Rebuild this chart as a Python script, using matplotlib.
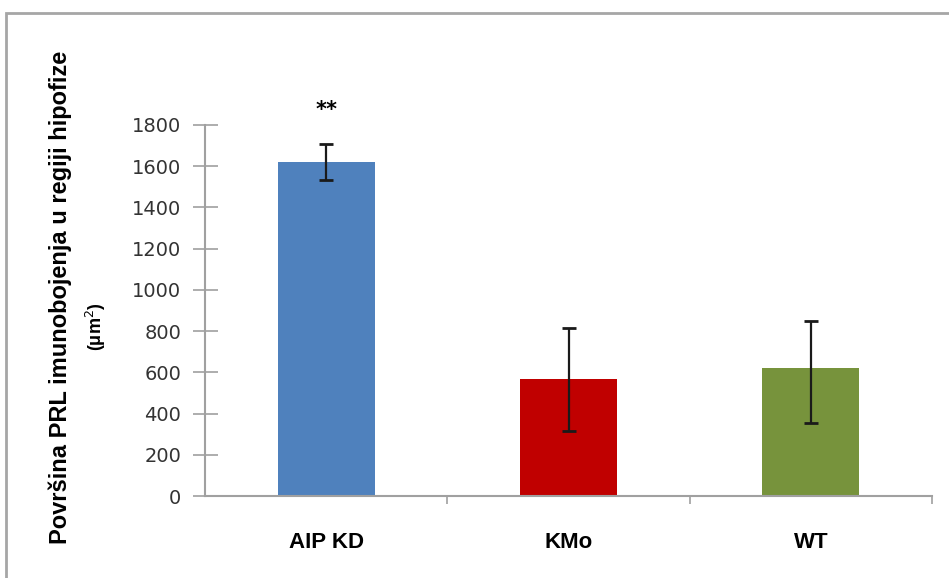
import matplotlib
matplotlib.use('Agg')
import matplotlib.pyplot as plt
from matplotlib.patches import Rectangle

groups = ['AIP KD', 'KMo', 'WT']
means = [1621, 568, 621]
err_low = [88, 252, 267]
err_high = [87, 248, 228]
colors = ['#4f81bd', '#c00000', '#77933c']
yticks = [0, 200, 400, 600, 800, 1000, 1200, 1400, 1600, 1800]

W, H = 949, 578
fig = plt.figure(figsize=(W / 100, H / 100), dpi=100)

# outer frame of the chart area, open at right and bottom
fig.patches.append(Rectangle((6 / W, -0.1), 1.1, 1 - 13 / H + 0.1,
                             transform=fig.transFigure, fill=False,
                             edgecolor='#a6a6a6', linewidth=2))

ax = fig.add_axes([205 / W, 1 - 496 / H, (932 - 205) / W, (496 - 125) / H])
x = range(len(groups))
ax.bar(x, means, width=0.4, color=colors, zorder=2)
ax.errorbar(x, means, yerr=[err_low, err_high], fmt='none', ecolor='#1a1a1a',
            elinewidth=1.6, capsize=5, capthick=2, zorder=3)

ax.set_xlim(-0.5, 2.5)
ax.set_ylim(0, 1800)
ax.set_yticks(yticks)
ax.set_yticklabels([str(v) for v in yticks], fontsize=14, color='#333333',
                   family='DejaVu Sans')
ax.set_xticks([0.5, 1.5, 2.5])
ax.set_xticklabels([])
ax.tick_params(axis='y', direction='inout', length=18, color='#a0a0a0', width=1.2, pad=8)
ax.tick_params(axis='x', direction='out', length=6, color='#a0a0a0', width=1.2)

for i, g in enumerate(groups):
    ax.text(i, -225, g, ha='center', va='center', fontsize=16,
            fontweight='bold', family='Liberation Sans')

ax.text(0, means[0] + err_high[0] + 165, '**', ha='center', va='center',
        fontsize=15, fontweight='bold', clip_on=False)

for side in ['top', 'right']:
    ax.spines[side].set_visible(False)
for side in ['left', 'bottom']:
    ax.spines[side].set_color('#a0a0a0')
    ax.spines[side].set_linewidth(1.5)

fig.text(60 / W, 1 - 297 / H, 'Površina PRL imunobojenja u regiji hipofize',
         rotation=90, ha='center', va='center', fontsize=17, fontweight='bold',
         family='Liberation Sans')
fig.text(96 / W, 1 - 327 / H, '(μm$^{2}$)', rotation=90, ha='center',
         va='center', fontsize=13, fontweight='bold', family='Liberation Sans')

fig.savefig('out.png', dpi=100, facecolor='white')
